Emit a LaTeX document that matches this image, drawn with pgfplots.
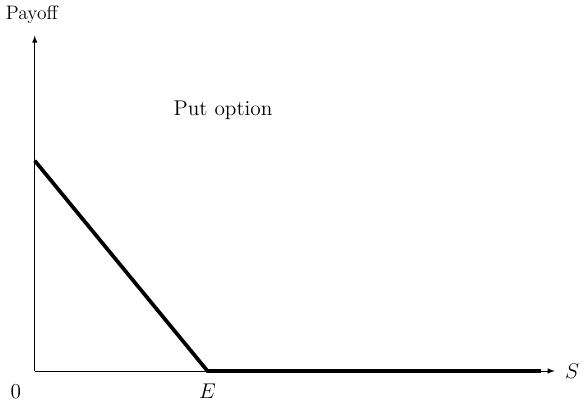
\documentclass[border=0pt]{standalone}
\usepackage{pgfplots}
\pgfplotsset{compat=1.18}
\begin{document}
\begin{tikzpicture}
\begin{axis}[
  scale only axis,
  width=293pt, height=189pt,
  xmin=0, xmax=3.01, ymin=0, ymax=1,
  axis lines=left,
  axis line style={line width=0.4pt, -latex},
  xtick=\empty, ytick=\empty,
  clip=false,
]
\addplot[black, line width=2.1pt] coordinates {(0,0.627) (1,0) (2.93,0)};
\node at (axis cs:-0.017,1.062) {\fontsize{11}{13}\selectfont Payoff};
\node at (axis cs:3.11,0) {\large $S$};
\node at (axis cs:-0.109,-0.062) {\large $0$};
\node at (axis cs:1,-0.06) {\large $E$};
\node at (axis cs:1.09,0.777) {\large Put option};
\end{axis}
\end{tikzpicture}
\end{document}
